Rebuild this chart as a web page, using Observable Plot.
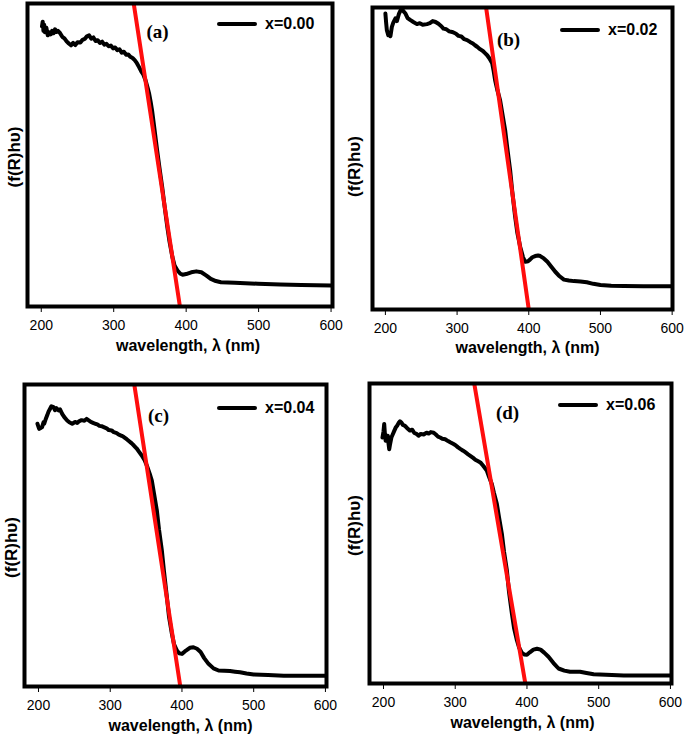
<!DOCTYPE html>
<html>
<head>
<meta charset="utf-8">
<script src="https://cdn.jsdelivr.net/npm/d3@7"></script>
<script src="https://cdn.jsdelivr.net/npm/@observablehq/plot@0.6"></script>
<style>
  html, body { margin: 0; padding: 0; background: #fff; }
  #root { position: relative; width: 685px; height: 741px; overflow: hidden; }
  .panel { position: absolute; }
  .legend { position: absolute; display: flex; align-items: center; font-family: "Liberation Sans", Arial, sans-serif; font-weight: bold; font-size: 16px; color: #000; white-space: nowrap; }
  .legend .bar { display: inline-block; width: 40px; height: 4px; background: #000; border-radius: 2px; margin-right: 8px; }
</style>
</head>
<body>
<div id="root"></div>
<script>
// ---------- data ----------
const xTicks = [200, 300, 400, 500, 600];
const panelLabels = ["(a)", "(b)", "(c)", "(d)"];
const seriesNames = ["x=0.00", "x=0.02", "x=0.04", "x=0.06"];
const yLabel = "(f(R)h\u03C5)";
const xLabel = "wavelength, \u03BB (nm)";

const wlA = [201,202,203,204,205,207,209,211,213,215,217,219,221,223,226,229,232,235,238,241,244,247,250,254,257,260,263,266,269,272,275,278,281,284,287,290,293,296,299,302,305,308,311,314,317,320,323,326,329,332,335,338,341,344,347,349,351,353,356,360,363,367,370,374,377,381,384,388,392,395,400,407,414,421,428,434,441,448,467,499,530,559,600];
const fA  = [92.5,94,91,93,90.5,92,89.5,90.5,89.8,91,90.2,91.5,90.6,91,90.2,89,88.5,87.5,86.8,86.2,87,86.3,87.2,87.1,88,88.3,89.2,89.5,88.4,88.8,87.6,87.9,87,87.4,86.4,86.7,85.9,86.1,85.2,85.5,84.6,84.9,83.8,84.1,83.1,83.2,82.4,82,81.3,80.3,79,77.6,76.5,74.6,72,70.1,67.5,64.6,59,51.4,46,39.3,33.5,26.2,21.5,16.3,13.5,11.9,10.8,10.5,10.7,11.3,11.6,11.3,10.2,9.1,8.4,8.0,7.8,7.5,7.3,7.1,6.9];

const wlB = [200,201,202,204,206,207,209,211,214,216,219,221,223,225,228,231,235,239,244,248,252,258,262,266,270,274,278,281,285,289,293,298,302,306,310,314,318,322,325,328,332,336,339,342,345,349,351,353,356,360,363,367,370,374,377,381,384,388,392,395,399,402,405,409,413,416,421,426,432,437,443,449,456,463,472,481,490,500,515,533,560,600];
const fB  = [98,95,92.5,90.8,91.5,90.5,93.6,95,96.4,95.5,98,99,99.7,98.8,98,96.5,95.8,95.2,94.5,94.8,94.3,94.5,94.8,95.5,95.2,94.6,93.8,93.0,92.8,92.1,91.9,91.4,90.6,90.4,89.5,89.2,88.6,88.1,87.5,87.0,86.2,85.6,84.9,84.2,83.2,81.5,79,76.0,72.8,69.3,65,59.4,53.5,46.1,39,30.7,25.5,20.8,17.3,15.8,16.0,16.6,17.3,17.7,17.9,17.7,16.9,15.8,14.0,12.5,11,9.9,9.6,9.4,9.3,9.0,8.5,8.1,7.9,7.8,7.7,7.7];

const wlC = [198.6,200,201,203,205,207,208,210,212,214,216,218,221,223,225,228,230,233,236,240,243,247,251,254,257,260,264,267,270,273,276,279,282,285,288,291,295,298,302,305,309,312,316,319,323,326,330,333,337,340,344,348,351,355,358,361,365,368,372,375,379,382,386,389,393,396,400,404,407,411,416,421,426,431,437,444,451,459,467,474,481,490,500,520,542,600];
const fC  = [87,86,85.3,85.6,85.9,87.5,87,88.5,89.7,91,91.9,92.8,92.5,91.5,92.2,91.4,91.8,90.3,89.2,88.1,87.5,87.0,87.6,87.3,87.9,88.2,88.0,88.6,88.1,87.6,87.3,87.0,86.8,86.3,86.2,85.9,85.5,84.9,84.8,84.2,83.9,83.4,83.0,82.6,81.9,81.3,80.5,79.8,78.8,77.8,76.5,74.9,73.2,70.5,68.2,64,58.3,52,45.0,38,29.6,23,17.4,14,11.9,11.0,10.8,11.6,12.1,12.8,13.0,12.5,11.4,9.4,7.5,6,5.3,5.2,5.1,4.9,4.7,4.3,4.0,3.8,3.6,3.6];

const wlD = [198.6,200,201,202,203,204,206,207,208,209,211,213,215,217,219,221,223,225,227,230,233,237,240,243,246,249,252,256,260,263,266,270,273,276,279,282,286,290,293,297,300,304,307,311,314,318,321,325,328,332,335,339,344,347,351,354,358,361,365,368,372,375,379,382,386,389,393,396,400,404,409,414,419,424,430,437,444,452,460,467,474,483,493,510,535,600];
const fD  = [82,84,86.5,83,80.9,82.5,82.6,80,78.1,79.5,82,83.1,84.2,85.3,85.9,86.8,87.4,87,86.2,85.9,85.1,84.3,84.6,83.5,83.2,82.6,83.2,83.0,83.6,83.3,83.8,83.6,83.0,82.3,82.0,81.6,81.4,80.8,80.4,79.9,79.5,78.7,78.2,77.6,77.1,76.4,75.9,75.2,74.6,74.1,73.7,72.6,71.0,69,66.5,63.5,59.9,55.5,49.9,44,37.7,30.5,23.3,18.5,14.4,12,10.2,9.7,9.6,10.4,11.3,11.6,11.3,10.3,8.9,6.8,5.0,4.3,3.9,3.9,3.9,3.5,3.1,2.9,2.7,2.7];

// tangent (red) lines: two points each [wavelength, f]
const tanA = [[322.5, 108], [394.6, -5]];
const tanB = [[335.7, 108], [403.0, -5]];
const tanC = [[328.4, 108], [400.9, -5]];
const tanD = [[320.8, 108], [401.3, -5]];

// ---------- layout (positions / styles) ----------
const panels = [
  {wl: wlA, f: fA, tan: tanA, left: 0,   top: 0,   width: 342, height: 370, mL: 27, mR: 10, mT: 3,  mB: 64, xdom: [181, 602],
   lab: [130, 21], leg: [190, 21], ylab: [-13, 2],  xlab: [8, 44]},
  {wl: wlB, f: fB, tan: tanB, left: 340, top: 0,   width: 345, height: 370, mL: 32, mR: 13, mT: 7,  mB: 61, xdom: [182, 600.5],
   lab: [136, 25], leg: [188, 23], ylab: [-18, 8],  xlab: [5, 43]},
  {wl: wlC, f: fC, tan: tanC, left: 0,   top: 370, width: 342, height: 371, mL: 24, mR: 16, mT: 14, mB: 55, xdom: [180.5, 601.5],
   lab: [134, 24], leg: [193, 24], ylab: [-13, 12], xlab: [5, 44]},
  {wl: wlD, f: fD, tan: tanD, left: 340, top: 370, width: 345, height: 371, mL: 29, mR: 14, mT: 13, mB: 58, xdom: [180.5, 601.5],
   lab: [138, 22], leg: [189, 22], ylab: [-15, -8], xlab: [2, 44]}
];

const root = document.getElementById("root");

panels.forEach((p, i) => {
  const curve = p.wl.map((w, k) => ({w, f: p.f[k]}));
  const tan = p.tan.map(([w, f]) => ({w, f}));
  const chart = Plot.plot({
    width: p.width,
    height: p.height,
    marginLeft: p.mL, marginRight: p.mR, marginTop: p.mT, marginBottom: p.mB,
    style: {fontFamily: "'Liberation Sans', Arial, sans-serif", fontSize: "14px", color: "#000", background: "transparent", overflow: "visible"},
    x: {domain: p.xdom, ticks: xTicks, tickFormat: d => String(d), tickSize: 6, tickPadding: 8, label: null},
    y: {domain: [0, 100], axis: null},
    marks: [
      Plot.line(curve, {x: "w", y: "f", stroke: "#000", strokeWidth: 4, strokeLinejoin: "round", strokeLinecap: "round", clip: true}),
      Plot.line(tan, {x: "w", y: "f", stroke: "#ff0d0d", strokeWidth: 4, clip: true}),
      Plot.frame({stroke: "#000", strokeWidth: 4}),
      Plot.text([panelLabels[i]], {text: d => d, frameAnchor: "top-left", dx: p.lab[0], dy: p.lab[1], textAnchor: "middle",
        fontFamily: "'Liberation Serif', 'Times New Roman', serif", fontWeight: "bold", fontSize: 19, fill: "#000"}),
      Plot.text([yLabel], {text: d => d, frameAnchor: "left", rotate: -90, dx: p.ylab[0], dy: p.ylab[1], textAnchor: "middle",
        fontWeight: "bold", fontSize: 17, fill: "#000"}),
      Plot.text([xLabel], {text: d => d, frameAnchor: "bottom", dx: p.xlab[0], dy: p.xlab[1], textAnchor: "middle",
        fontWeight: "bold", fontSize: 16, fill: "#000"})
    ]
  });
  const holder = document.createElement("div");
  holder.className = "panel";
  holder.style.left = p.left + "px";
  holder.style.top = p.top + "px";
  holder.appendChild(chart);
  root.appendChild(holder);

  // legend entry (inside the frame, top right)
  const leg = document.createElement("div");
  leg.className = "legend";
  leg.style.left = (p.left + p.mL + p.leg[0]) + "px";
  leg.style.top = (p.top + p.mT + p.leg[1] - 10) + "px";
  leg.style.height = "20px";
  const bar = document.createElement("span");
  bar.className = "bar";
  const txt = document.createElement("span");
  txt.textContent = seriesNames[i];
  leg.appendChild(bar);
  leg.appendChild(txt);
  root.appendChild(leg);
});
</script>
</body>
</html>
